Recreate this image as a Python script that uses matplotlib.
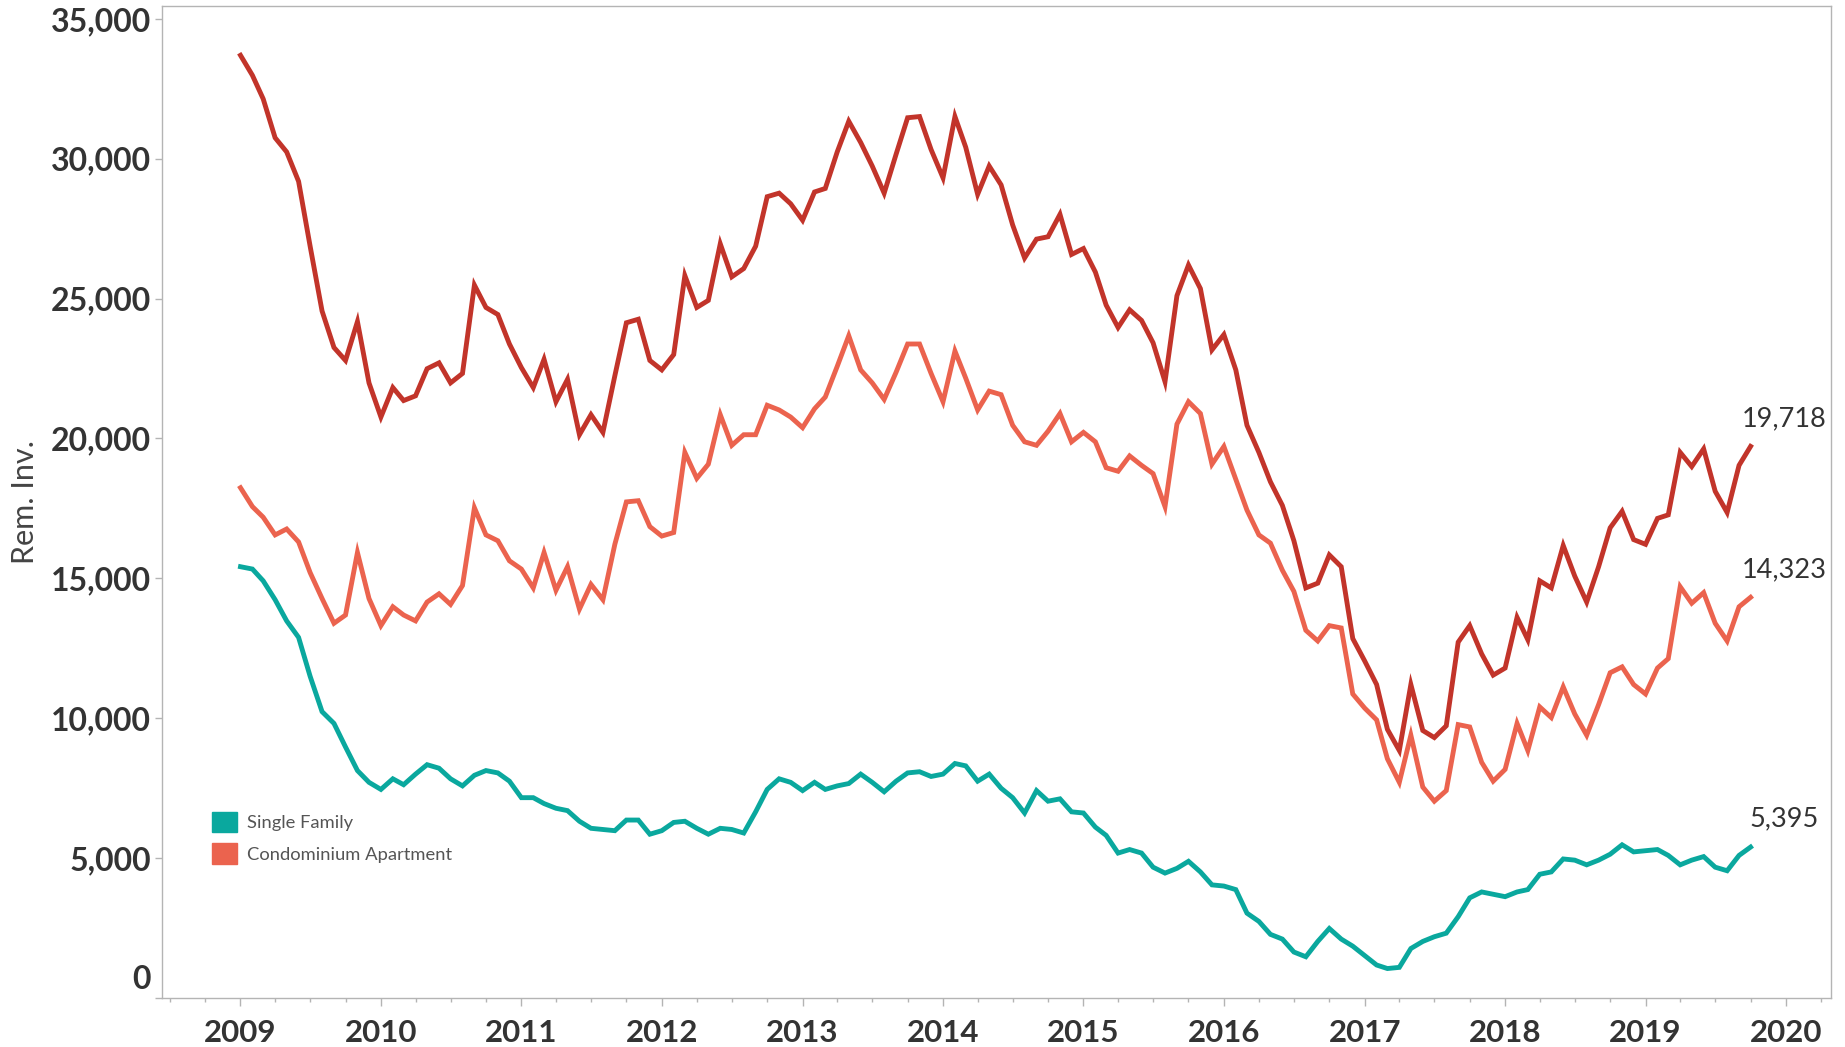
import numpy as np
import pandas as pd
import matplotlib
matplotlib.use('Agg')
import matplotlib.pyplot as plt
import matplotlib.dates as mdates
import matplotlib.transforms as mtransforms
from matplotlib.patches import Patch
from matplotlib.ticker import FuncFormatter

plt.rcParams['font.family'] = ['Lato', 'DejaVu Sans']

# monthly remaining inventory, Jan 2009 - Oct 2019
months = pd.date_range('2009-01-01', periods=130, freq='MS')

total = [33698, 32982, 32140, 30750, 30244, 29191, 26874, 24558, 23252, 22789, 24179, 21988,
         20767, 21820, 21356, 21525, 22494, 22704, 21988, 22325, 25484, 24684, 24431, 23378,
         22536, 21820, 22831, 21314, 22115, 20135, 20851, 20219, 22241, 24137, 24263, 22789,
         22452, 23000, 25822, 24684, 24937, 26959, 25779, 26074, 26874, 28644, 28770, 28391,
         27801, 28812, 28938, 30244, 31340, 30581, 29739, 28770, 30160, 31466, 31508, 30328,
         29317, 31508, 30412, 28728, 29739, 29065, 27633, 26453, 27127, 27212, 28012, 26579,
         26790, 25948, 24768, 23968, 24600, 24221, 23420, 22030, 25105, 26200, 25358, 23167,
         23715, 22452, 20472, 19503, 18450, 17608, 16344, 14659, 14828, 15838, 15417, 12848,
         12047, 11205, 9604, 8846, 11205, 9562, 9309, 9730, 12721, 13311, 12300, 11542,
         11794, 13606, 12805, 14912, 14659, 16175, 15080, 14153, 15417, 16807, 17397, 16386,
         16217, 17144, 17270, 19503, 18997, 19629, 18113, 17355, 19040, 19718]

condo = [18240, 17565, 17186, 16554, 16765, 16302, 15207, 14280, 13395, 13690, 15923, 14280,
         13311, 13985, 13690, 13480, 14153, 14448, 14069, 14743, 17523, 16554, 16344, 15628,
         15333, 14659, 15923, 14575, 15417, 13901, 14785, 14238, 16217, 17734, 17776, 16849,
         16512, 16639, 19503, 18576, 19082, 20851, 19756, 20135, 20135, 21188, 21020, 20767,
         20387, 21061, 21483, 22578, 23673, 22452, 21988, 21398, 22367, 23378, 23378, 22325,
         21314, 23125, 22157, 21020, 21693, 21567, 20472, 19882, 19756, 20261, 20893, 19882,
         20219, 19882, 18955, 18829, 19377, 19040, 18745, 17565, 20514, 21314, 20893, 19082,
         19714, 18534, 17439, 16554, 16259, 15291, 14533, 13143, 12763, 13311, 13227, 10868,
         10362, 9941, 8551, 7709, 9393, 7540, 7035, 7414, 9773, 9689, 8425, 7751,
         8172, 9815, 8846, 10404, 10025, 11120, 10152, 9393, 10489, 11626, 11837, 11205,
         10868, 11794, 12131, 14701, 14111, 14490, 13395, 12763, 13985, 14323]

single_family = [15417, 15333, 14912, 14238, 13480, 12890, 11500, 10236, 9815, 8973, 8130, 7709,
                 7456, 7835, 7624, 8003, 8340, 8214, 7835, 7582, 7961, 8130, 8046, 7751,
                 7161, 7161, 6950, 6782, 6698, 6318, 6066, 6024, 5981, 6361, 6361, 5855,
                 5981, 6276, 6318, 6066, 5855, 6066, 6024, 5897, 6655, 7456, 7835, 7709,
                 7414, 7709, 7456, 7582, 7666, 8003, 7709, 7372, 7751, 8046, 8088, 7919,
                 8003, 8383, 8298, 7751, 8003, 7498, 7161, 6613, 7414, 7035, 7119, 6655,
                 6613, 6108, 5813, 5181, 5307, 5181, 4676, 4465, 4634, 4886, 4507, 4044,
                 4002, 3875, 3033, 2738, 2275, 2106, 1643, 1474, 2022, 2485, 2106, 1853,
                 1516, 1179, 1053, 1095, 1769, 2022, 2190, 2317, 2906, 3580, 3791, 3707,
                 3622, 3791, 3875, 4423, 4507, 4970, 4928, 4760, 4928, 5139, 5476, 5223,
                 5265, 5307, 5097, 4760, 4928, 5055, 4676, 4549, 5097, 5395]

c_total = '#C2342A'
c_condo = '#EB634E'
c_sf = '#0AA89E'
grey = '#B4B4B4'
txt = '#333333'

fig = plt.figure(figsize=(18.45, 10.47), dpi=100)
ax = fig.add_axes([162/1845, 1 - 998/1047, 1669/1845, 992/1047])

ax.plot(months, total, color=c_total, lw=3.5, solid_joinstyle='miter')
ax.plot(months, condo, color=c_condo, lw=3.5, solid_joinstyle='miter')
ax.plot(months, single_family, color=c_sf, lw=3.5, solid_joinstyle='miter')

# end labels
for series in (total, condo, single_family):
    ax.annotate(f'{series[-1]:,}', (months[-1], series[-1]), xytext=(24, 20),
                textcoords='offset points', ha='center', va='center',
                fontsize=19.5, color=txt)

ax.set_xlim(pd.Timestamp('2008-06-11'), pd.Timestamp('2020-04-27'))
ax.set_ylim(0, 35460)

ax.xaxis.set_major_locator(mdates.YearLocator())
ax.xaxis.set_major_formatter(mdates.DateFormatter('%Y'))
ax.xaxis.set_minor_locator(mdates.MonthLocator(bymonth=[1, 4, 7, 10]))
ax.set_yticks(np.arange(0, 35001, 5000))
ax.yaxis.set_major_formatter(FuncFormatter(lambda v, p: f'{int(v):,}'))

ax.tick_params(axis='x', which='major', length=6, width=1, color=grey, pad=9,
               labelsize=22.5, labelcolor=txt)
ax.tick_params(axis='x', which='minor', length=3, width=1, color=grey)
ax.tick_params(axis='y', length=5, width=1, color=grey, pad=3,
               labelsize=23, labelcolor=txt)
for lab in ax.get_xticklabels() + ax.get_yticklabels():
    lab.set_fontweight('bold')
zero = ax.get_yticklabels()[0]
zero.set_verticalalignment('bottom')
zero.set_transform(zero.get_transform() +
                   mtransforms.ScaledTranslation(0, 3/72, fig.dpi_scale_trans))

for s in ax.spines.values():
    s.set_color(grey)
    s.set_linewidth(1)

ax.set_ylabel('Rem. Inv.', fontsize=22, color='#444444')
ax.yaxis.set_label_coords(-0.0735, 0.50)

handles = [Patch(color=c_sf, label='Single Family'),
           Patch(color=c_condo, label='Condominium Apartment')]
ax.legend(handles=handles, loc='upper left', bbox_to_anchor=(0.030, 0.188),
          frameon=False, fontsize=13.2, labelcolor='#555555', handlelength=1.35,
          handleheight=1.35, handletextpad=0.55, labelspacing=0.62,
          borderpad=0, borderaxespad=0)

fig.savefig('out.png', dpi=100)
